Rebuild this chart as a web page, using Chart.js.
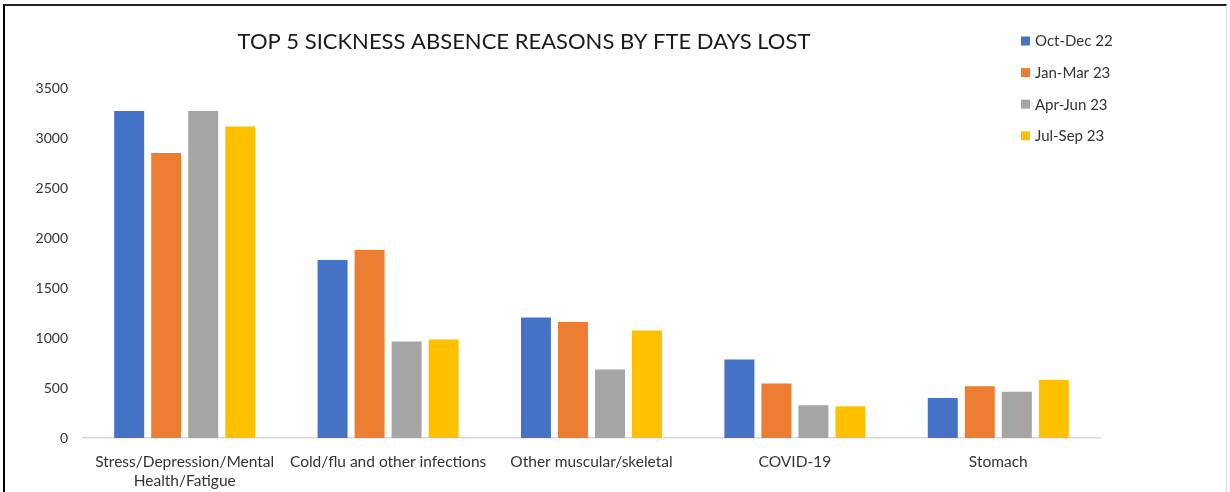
<!DOCTYPE html>
<html>
<head>
<meta charset="utf-8">
<script src="https://cdn.jsdelivr.net/npm/chart.js@4"></script>
<style>
    html, body { margin: 0; padding: 0; background: #fff; }
    #wrap { position: relative; width: 1230px; height: 492px; overflow: hidden; }
    #frame {
        position: absolute; left: 3px; top: 4px; width: 1221px; height: 500px;
        border-left: 2px solid #000; border-top: 2px solid #222; border-right: 1px solid #d9d9d9;
        pointer-events: none;
    }
    canvas { position: absolute; left: 0; top: 0; }
</style>
</head>
<body>
<div id="wrap">
    <canvas id="absence-chart" width="1230" height="492"></canvas>
    <div id="frame"></div>
</div>
<script>
const chartTitle = 'TOP 5 SICKNESS ABSENCE REASONS BY FTE DAYS LOST';
const categories = [
    ['Stress/Depression/Mental', 'Health/Fatigue'],
    'Cold/flu and other infections',
    'Other muscular/skeletal',
    'COVID-19',
    'Stomach'
];
const quarters = ['Oct-Dec 22', 'Jan-Mar 23', 'Apr-Jun 23', 'Jul-Sep 23'];
const octDec22 = [3270, 1780, 1205, 785, 400];
const janMar23 = [2850, 1880, 1160, 545, 517];
const aprJun23 = [3270, 965, 685, 327, 463];
const julSep23 = [3115, 985, 1075, 317, 580];
const colours = ['#4472C4', '#ED7D31', '#A5A5A5', '#FFC000'];

const font = 'Lato';

// title + legend drawn by hand so the legend can sit inside the plot area like the original
const overlay = {
    id: 'overlay',
    afterDraw(chart) {
        const ctx = chart.ctx;
        ctx.save();
        ctx.fillStyle = '#1a1a1a';
        ctx.font = '22px ' + font;
        ctx.textAlign = 'center';
        ctx.textBaseline = 'middle';
        ctx.fillText(chartTitle, 524, 42);

        ctx.font = '15px ' + font;
        ctx.textAlign = 'left';
        chart.data.datasets.forEach((ds, i) => {
            const y = 41 + i * 31.6;
            ctx.fillStyle = ds.backgroundColor;
            ctx.fillRect(1021, y - 4.5, 9, 9);
            ctx.fillStyle = '#333';
            ctx.fillText(ds.label, 1035, y + 0.5);
        });
        ctx.restore();
    }
};

const series = [octDec22, janMar23, aprJun23, julSep23];

new Chart(document.getElementById('absence-chart').getContext('2d'), {
    type: 'bar',
    data: {
        labels: categories,
        datasets: quarters.map((q, i) => ({
            label: q,
            data: series[i],
            backgroundColor: colours[i],
            categoryPercentage: 0.728,
            barPercentage: 0.81
        }))
    },
    options: {
        responsive: false,
        animation: false,
        layout: { padding: { top: 88, right: 130, bottom: 0, left: 0 } },
        plugins: {
            legend: { display: false },
            title: { display: false },
            tooltip: { enabled: false }
        },
        scales: {
            x: {
                grid: { display: false, drawTicks: false },
                border: { display: true, color: '#d9d9d9', width: 1.5 },
                ticks: {
                    color: '#333',
                    font: { family: font, size: 15.5, lineHeight: 1.23 },
                    padding: 14,
                    maxRotation: 0,
                    autoSkip: false
                },
                afterFit: (scale) => { scale.height = 54; }
            },
            y: {
                min: 0,
                max: 3500,
                grid: { display: false, drawTicks: false },
                border: { display: false },
                ticks: {
                    stepSize: 500,
                    color: '#333',
                    font: { family: font, size: 14 },
                    padding: 15,
                    callback: (v) => String(v)
                },
                afterFit: (scale) => { scale.width = 83; }
            }
        }
    },
    plugins: [overlay]
});
</script>
</body>
</html>
